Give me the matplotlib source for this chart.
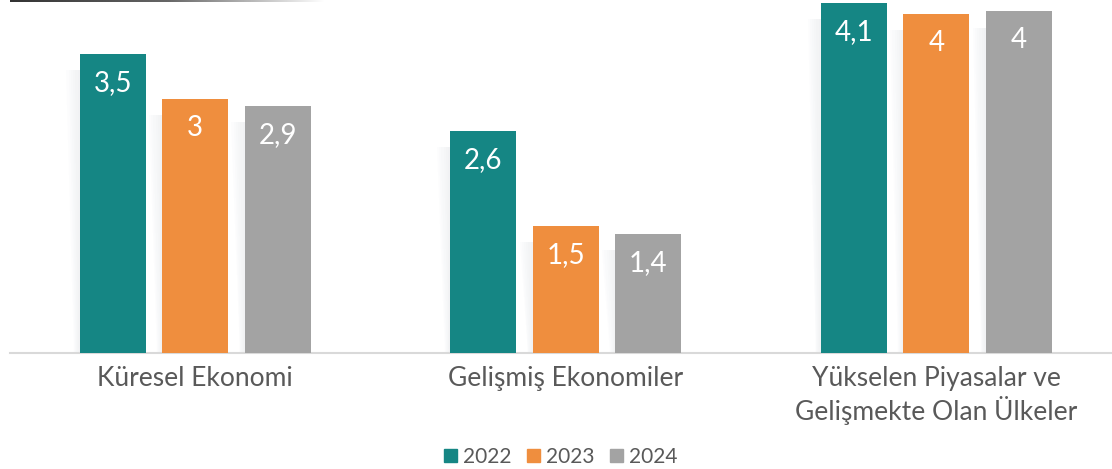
import matplotlib
matplotlib.use("Agg")
import matplotlib.pyplot as plt
import numpy as np
from matplotlib.colors import LinearSegmentedColormap
from matplotlib.patches import Patch

plt.rcParams["font.family"] = ["Lato", "DejaVu Sans"]

# data
categories = ["Küresel Ekonomi", "Gelişmiş Ekonomiler",
              "Yükselen Piyasalar ve\nGelişmekte Olan Ülkeler"]
years = ["2022", "2023", "2024"]
values_2022 = [3.5, 2.6, 4.1]
values_2023 = [2.97, 1.48, 3.97]
values_2024 = [2.89, 1.39, 4.0]
series = [values_2022, values_2023, values_2024]
colors = ["#158684", "#ef8e3e", "#a3a3a3"]
TEXT = "#595959"

W, H = 1112, 469
fig = plt.figure(figsize=(W / 100, H / 100), dpi=100)
ax = fig.add_axes([10 / W, (H - 352.5) / H, 1102 / W, 352.5 / H])

x = np.arange(len(categories))
step, width = 0.2227, 0.178

for i, (vals, col) in enumerate(zip(series, colors)):
    pos = x + (i - 1) * step
    bars = ax.bar(pos, vals, width=width, color=col, zorder=3)
    for b, v in zip(bars, vals):
        l, h = b.get_x(), b.get_height()
        # faint slanted shadow on the left of each bar, fading outwards
        for k in range(6):
            off = 0.036 * (1 - k / 6)
            ax.fill([l - off, l, l, l - off * 0.4], [h - 0.19, h - 0.19, 0, 0],
                    color="#e4e7ea", alpha=0.09, lw=0, zorder=1)
        lab = f"{round(v, 1):g}".replace(".", ",")
        ax.text(b.get_x() + width / 2, h - 0.34, lab, ha="center", va="center",
                color="white", fontsize=20, zorder=4)

ax.set_xlim(-0.5, 2.4737)
ax.set_ylim(0, 352.5 / 85.29)
ax.set_yticks([])
ax.set_xticks(x, categories, fontsize=19, color=TEXT)
ax.tick_params(axis="x", length=0, pad=10)
for s in ["top", "left", "right"]:
    ax.spines[s].set_visible(False)
ax.spines["bottom"].set_color("#d9d9d9")
ax.spines["bottom"].set_linewidth(1.5)

handles = [Patch(color=c, label=y) for c, y in zip(colors, years)]
fig.legend(handles=handles, loc="lower center", bbox_to_anchor=(561 / W, -0.036),
           ncol=3, frameon=False, fontsize=15,
           handlelength=0.6, handleheight=0.6, handletextpad=0.3,
           columnspacing=0.75, labelcolor=TEXT)

# decorative gradient rule at the top left
gax = fig.add_axes([10 / W, 1 - 2.5 / H, 315 / W, 2.5 / H])
cmap = LinearSegmentedColormap.from_list("rule", ["#333333", "#666666", "#ffffff"])
gax.imshow(np.linspace(0, 1, 256)[None, :], aspect="auto", cmap=cmap)
gax.axis("off")

fig.savefig("out.png", dpi=100)
